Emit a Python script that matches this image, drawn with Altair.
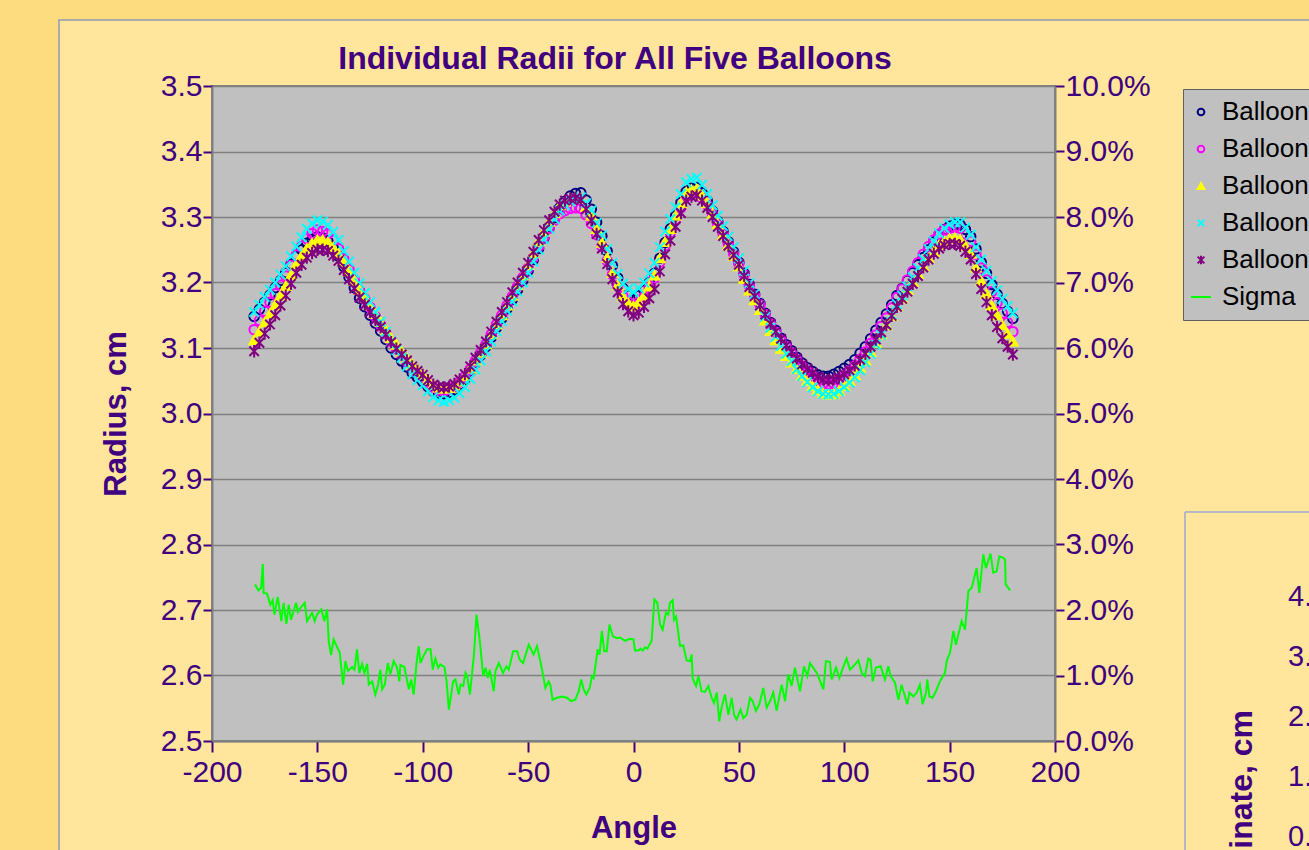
import altair as alt
import pandas as pd

# ---------------- data ----------------
ANGLES = [a / 2 for a in range(-360, 361, 5)]   # -180 .. 180 every 2.5 degrees

BALLOON_1 = [3.148, 3.159, 3.170, 3.181, 3.192, 3.203, 3.215, 3.228, 3.240, 3.250,
             3.260, 3.266, 3.270, 3.268, 3.263, 3.253, 3.240, 3.224, 3.208, 3.192,
             3.176, 3.163, 3.150, 3.138, 3.126, 3.113, 3.100, 3.090, 3.080, 3.071,
             3.062, 3.055, 3.048, 3.041, 3.034, 3.031, 3.030, 3.032, 3.036, 3.044,
             3.052, 3.064, 3.077, 3.089, 3.102, 3.116, 3.131, 3.145, 3.160, 3.174,
             3.189, 3.203, 3.218, 3.235, 3.252, 3.268, 3.284, 3.299, 3.314, 3.324,
             3.332, 3.336, 3.337, 3.326, 3.312, 3.292, 3.271, 3.248, 3.226, 3.207,
             3.191, 3.181, 3.175, 3.180, 3.188, 3.200, 3.214, 3.237, 3.261, 3.282,
             3.302, 3.322, 3.339, 3.344, 3.345, 3.337, 3.325, 3.309, 3.293, 3.278,
             3.262, 3.247, 3.231, 3.214, 3.197, 3.182, 3.168, 3.153, 3.139, 3.127,
             3.115, 3.105, 3.096, 3.086, 3.077, 3.070, 3.064, 3.059, 3.057, 3.057,
             3.060, 3.064, 3.069, 3.075, 3.082, 3.092, 3.102, 3.114, 3.127, 3.139,
             3.152, 3.166, 3.180, 3.191, 3.203, 3.215, 3.227, 3.238, 3.250, 3.262,
             3.273, 3.281, 3.286, 3.289, 3.288, 3.281, 3.270, 3.251, 3.231, 3.214,
             3.197, 3.182, 3.168, 3.156, 3.145]
BALLOON_2 = [3.128, 3.142, 3.156, 3.170, 3.183, 3.196, 3.210, 3.226, 3.242, 3.255,
             3.267, 3.275, 3.280, 3.278, 3.274, 3.264, 3.252, 3.236, 3.220, 3.204,
             3.188, 3.175, 3.162, 3.148, 3.135, 3.122, 3.110, 3.099, 3.089, 3.079,
             3.069, 3.061, 3.054, 3.047, 3.040, 3.036, 3.035, 3.037, 3.041, 3.048,
             3.056, 3.068, 3.081, 3.093, 3.106, 3.121, 3.136, 3.150, 3.165, 3.179,
             3.194, 3.208, 3.222, 3.238, 3.255, 3.269, 3.283, 3.295, 3.305, 3.310,
             3.313, 3.314, 3.313, 3.303, 3.290, 3.273, 3.255, 3.233, 3.212, 3.195,
             3.179, 3.170, 3.165, 3.170, 3.178, 3.192, 3.207, 3.231, 3.256, 3.276,
             3.296, 3.314, 3.331, 3.336, 3.337, 3.329, 3.318, 3.304, 3.289, 3.274,
             3.259, 3.244, 3.229, 3.212, 3.195, 3.180, 3.166, 3.151, 3.137, 3.124,
             3.112, 3.102, 3.092, 3.082, 3.072, 3.064, 3.056, 3.050, 3.046, 3.045,
             3.046, 3.051, 3.057, 3.065, 3.073, 3.083, 3.094, 3.107, 3.120, 3.133,
             3.146, 3.161, 3.177, 3.190, 3.204, 3.217, 3.230, 3.243, 3.255, 3.265,
             3.274, 3.280, 3.283, 3.284, 3.283, 3.274, 3.263, 3.243, 3.222, 3.204,
             3.186, 3.169, 3.153, 3.139, 3.125]
BALLOON_3 = [3.112, 3.125, 3.139, 3.152, 3.166, 3.180, 3.195, 3.212, 3.228, 3.241,
             3.252, 3.260, 3.265, 3.265, 3.262, 3.254, 3.244, 3.231, 3.217, 3.203,
             3.189, 3.177, 3.165, 3.152, 3.140, 3.127, 3.115, 3.105, 3.095, 3.085,
             3.075, 3.067, 3.060, 3.052, 3.044, 3.040, 3.038, 3.039, 3.043, 3.049,
             3.057, 3.069, 3.081, 3.093, 3.106, 3.121, 3.136, 3.150, 3.165, 3.180,
             3.196, 3.211, 3.227, 3.245, 3.263, 3.278, 3.293, 3.306, 3.318, 3.324,
             3.328, 3.330, 3.328, 3.316, 3.302, 3.282, 3.261, 3.238, 3.215, 3.196,
             3.179, 3.169, 3.164, 3.170, 3.180, 3.194, 3.211, 3.237, 3.262, 3.282,
             3.302, 3.321, 3.338, 3.342, 3.343, 3.333, 3.321, 3.305, 3.289, 3.273,
             3.257, 3.241, 3.225, 3.206, 3.188, 3.173, 3.158, 3.142, 3.126, 3.112,
             3.099, 3.088, 3.078, 3.068, 3.058, 3.050, 3.042, 3.036, 3.031, 3.029,
             3.030, 3.035, 3.042, 3.050, 3.059, 3.070, 3.081, 3.094, 3.108, 3.121,
             3.135, 3.149, 3.164, 3.176, 3.189, 3.201, 3.213, 3.225, 3.237, 3.247,
             3.257, 3.263, 3.267, 3.268, 3.266, 3.256, 3.244, 3.223, 3.202, 3.183,
             3.165, 3.150, 3.135, 3.122, 3.110]
BALLOON_4 = [3.155, 3.166, 3.178, 3.189, 3.200, 3.212, 3.225, 3.240, 3.255, 3.269,
             3.282, 3.290, 3.295, 3.293, 3.288, 3.277, 3.265, 3.248, 3.232, 3.215,
             3.199, 3.184, 3.170, 3.155, 3.140, 3.125, 3.110, 3.097, 3.085, 3.072,
             3.060, 3.051, 3.043, 3.034, 3.025, 3.020, 3.018, 3.020, 3.024, 3.031,
             3.040, 3.053, 3.067, 3.081, 3.095, 3.110, 3.126, 3.141, 3.157, 3.171,
             3.186, 3.200, 3.215, 3.232, 3.250, 3.266, 3.282, 3.297, 3.310, 3.318,
             3.324, 3.328, 3.330, 3.321, 3.310, 3.291, 3.272, 3.251, 3.230, 3.213,
             3.198, 3.190, 3.185, 3.191, 3.200, 3.214, 3.230, 3.254, 3.278, 3.297,
             3.315, 3.335, 3.353, 3.358, 3.360, 3.349, 3.335, 3.318, 3.302, 3.286,
             3.270, 3.254, 3.237, 3.218, 3.199, 3.182, 3.165, 3.148, 3.131, 3.117,
             3.103, 3.091, 3.080, 3.068, 3.057, 3.048, 3.040, 3.034, 3.030, 3.029,
             3.030, 3.034, 3.040, 3.047, 3.055, 3.066, 3.078, 3.091, 3.105, 3.120,
             3.135, 3.151, 3.167, 3.180, 3.194, 3.208, 3.222, 3.236, 3.251, 3.263,
             3.275, 3.283, 3.289, 3.292, 3.292, 3.284, 3.273, 3.254, 3.235, 3.218,
             3.202, 3.188, 3.175, 3.164, 3.153]
BALLOON_5 = [3.095, 3.108, 3.122, 3.136, 3.150, 3.165, 3.180, 3.198, 3.215, 3.227,
             3.238, 3.245, 3.250, 3.250, 3.248, 3.241, 3.233, 3.219, 3.205, 3.191,
             3.177, 3.166, 3.155, 3.143, 3.132, 3.120, 3.109, 3.099, 3.090, 3.081,
             3.072, 3.065, 3.059, 3.051, 3.044, 3.041, 3.040, 3.041, 3.045, 3.052,
             3.060, 3.072, 3.085, 3.097, 3.110, 3.125, 3.140, 3.155, 3.170, 3.185,
             3.200, 3.215, 3.230, 3.247, 3.265, 3.280, 3.295, 3.308, 3.319, 3.325,
             3.328, 3.329, 3.326, 3.312, 3.295, 3.274, 3.252, 3.228, 3.205, 3.185,
             3.167, 3.156, 3.150, 3.154, 3.163, 3.176, 3.190, 3.217, 3.243, 3.264,
             3.285, 3.306, 3.325, 3.331, 3.333, 3.325, 3.314, 3.300, 3.285, 3.271,
             3.256, 3.242, 3.227, 3.210, 3.193, 3.179, 3.165, 3.151, 3.137, 3.125,
             3.114, 3.104, 3.094, 3.084, 3.075, 3.068, 3.062, 3.056, 3.052, 3.051,
             3.052, 3.055, 3.060, 3.066, 3.073, 3.082, 3.091, 3.102, 3.113, 3.124,
             3.135, 3.149, 3.163, 3.175, 3.186, 3.198, 3.210, 3.223, 3.235, 3.244,
             3.252, 3.257, 3.259, 3.259, 3.256, 3.247, 3.235, 3.213, 3.190, 3.170,
             3.150, 3.132, 3.115, 3.102, 3.090]

SIGMA_ANGLE = [-179.6, -178.0, -176.7, -175.9, -175.5, -173.9, -172.3, -171.2, -170.4, -168.8,
               -167.1, -166.0, -164.7, -163.6, -162.5, -160.1, -159.2, -158.1, -156.0, -154.9,
               -152.5, -151.3, -150.2, -148.1, -146.7, -145.4, -144.6, -143.5, -142.3, -139.4,
               -137.8, -136.7, -135.5, -133.5, -132.4, -131.2, -130.1, -128.8, -127.7, -126.4,
               -125.6, -124.0, -122.5, -121.2, -120.1, -119.3, -118.0, -116.6, -115.4, -113.8,
               -112.2, -111.1, -110.6, -108.7, -106.6, -105.5, -104.3, -103.0, -101.9, -101.1,
               -99.8, -97.9, -96.3, -95.2, -94.0, -92.7, -91.6, -89.7, -88.7, -87.6,
               -85.6, -84.5, -82.9, -82.1, -80.8, -79.7, -78.9, -77.6, -75.7, -74.5,
               -72.9, -71.3, -70.2, -69.1, -68.2, -66.3, -65.5, -63.9, -61.9, -60.3,
               -59.2, -57.1, -55.2, -54.0, -52.4, -49.7, -47.4, -45.8, -44.2, -41.8,
               -40.3, -39.5, -38.4, -36.3, -33.9, -31.6, -29.7, -27.6, -26.0, -24.8,
               -23.7, -22.4, -20.8, -19.7, -18.9, -17.0, -16.1, -15.0, -13.9, -12.7,
               -11.4, -9.8, -7.9, -6.4, -4.0, -1.7, 0.0, 0.7, 2.3, 3.4,
               4.4, 5.5, 6.6, 8.6, 9.9, 11.3, 12.6, 13.8, 15.4, 16.5,
               17.3, 18.6, 19.2, 20.2, 22.1, 23.6, 25.2, 26.8, 27.6, 28.1,
               29.7, 30.8, 32.3, 33.9, 35.5, 37.1, 38.2, 39.5, 40.7, 41.8,
               43.4, 45.0, 46.6, 47.7, 48.9, 50.8, 52.1, 53.7, 55.3, 56.5,
               58.1, 59.7, 61.6, 63.2, 64.8, 66.3, 67.9, 70.3, 71.9, 73.5,
               75.0, 76.6, 79.0, 80.9, 82.5, 83.7, 87.0, 90.1, 91.3, 93.2,
               94.0, 96.1, 97.7, 99.2, 101.1, 102.7, 104.3, 106.7, 108.3, 109.8,
               111.4, 112.5, 113.5, 115.0, 117.3, 119.3, 120.9, 122.0, 124.1, 125.7,
               127.2, 129.9, 130.9, 132.8, 134.4, 135.9, 137.2, 138.8, 139.4, 140.4,
               141.9, 143.5, 145.4, 147.8, 148.6, 150.2, 151.8, 153.0, 155.7, 157.3,
               158.9, 160.5, 162.8, 164.1, 166.0, 167.2, 169.4, 170.7, 172.3, 173.6,
               175.2, 176.3, 176.6, 178.7]
SIGMA_PCT = [2.39, 2.30, 2.34, 2.70, 2.26, 2.25, 2.08, 2.15, 1.93, 2.20,
             1.83, 2.11, 1.79, 2.08, 1.85, 2.11, 1.97, 2.03, 2.11, 1.83,
             1.96, 1.83, 1.93, 2.01, 1.83, 2.01, 1.52, 1.31, 1.55, 1.35,
             0.86, 1.22, 1.07, 1.13, 1.09, 1.40, 1.04, 1.18, 1.04, 1.18,
             0.86, 0.91, 0.71, 0.86, 1.09, 0.79, 0.86, 1.19, 1.02, 1.22,
             1.12, 0.91, 1.16, 1.13, 0.79, 0.94, 0.71, 1.17, 1.45, 1.19,
             1.29, 1.40, 1.40, 1.09, 1.26, 1.12, 1.17, 1.13, 0.91, 0.48,
             0.91, 0.94, 0.71, 0.86, 0.84, 1.04, 0.99, 0.71, 1.32, 1.93,
             1.52, 0.99, 1.12, 0.96, 1.09, 0.76, 1.07, 1.19, 1.04, 1.14,
             1.09, 1.37, 1.37, 1.24, 1.19, 1.47, 1.32, 1.45, 1.22, 0.81,
             0.91, 0.86, 0.63, 0.66, 0.68, 0.66, 0.61, 0.63, 0.76, 0.94,
             0.79, 0.71, 0.81, 0.99, 0.96, 1.40, 1.32, 1.68, 1.37, 1.37,
             1.78, 1.60, 1.57, 1.58, 1.53, 1.56, 1.55, 1.38, 1.38, 1.41,
             1.38, 1.43, 1.41, 1.53, 2.16, 2.11, 1.78, 1.70, 1.96, 1.93,
             2.11, 2.15, 1.85, 1.90, 1.45, 1.46, 1.23, 1.22, 1.32, 0.95,
             0.84, 0.99, 0.76, 0.75, 0.84, 0.66, 0.58, 0.74, 0.30, 0.51,
             0.71, 0.40, 0.66, 0.40, 0.33, 0.48, 0.35, 0.40, 0.66, 0.61,
             0.46, 0.56, 0.81, 0.51, 0.61, 0.74, 0.46, 0.86, 0.61, 1.02,
             0.84, 1.12, 0.76, 1.14, 0.99, 1.19, 1.04, 0.79, 1.22, 1.21,
             0.94, 1.12, 0.96, 1.10, 1.26, 1.09, 1.14, 1.23, 1.04, 0.99,
             1.26, 1.24, 0.91, 1.12, 1.14, 0.94, 1.14, 0.99, 0.89, 0.63,
             0.86, 0.56, 0.74, 0.68, 0.74, 0.86, 0.56, 0.74, 0.94, 0.68,
             0.66, 0.76, 0.91, 1.04, 1.22, 1.35, 1.68, 1.47, 1.83, 1.70,
             2.29, 2.34, 2.64, 2.26, 2.85, 2.64, 2.86, 2.57, 2.59, 2.82,
             2.80, 2.77, 2.39, 2.30]

SERIES = ["Balloon 1", "Balloon 2", "Balloon 3", "Balloon 4", "Balloon 5", "Sigma"]
X_TICKS = [-200, -150, -100, -50, 0, 50, 100, 150, 200]
Y_TICKS = [2.5, 2.6, 2.7, 2.8, 2.9, 3.0, 3.1, 3.2, 3.3, 3.4, 3.5]
Y2_TICKS = [0, 1, 2, 3, 4, 5, 6, 7, 8, 9, 10]
SIDE_TICKS = ["4.0", "3.0", "2.0", "1.0", "0.0"]
TITLE = "Individual Radii for All Five Balloons"

# ---------------- styles ----------------
STROKES = ["#000080", "#FF00FF", "#FFFF00", "#00FFFF", "#800080", "#00FF00"]
FILLS = ["transparent", "transparent", "#FFFF00", "transparent", "transparent", "transparent"]
SHAPES = ["circle", "circle", "triangle-up",
          "M-1,-1L1,1M-1,1L1,-1",
          "M-1,-1L1,1M-1,1L1,-1M0,-1.3L0,1.3",
          "M-3,0L3,0"]
PURPLE = "#400080"
FONT = "Liberation Sans"
OUTER = "#FDDC80"
INNER = "#FFE69C"

rows = []
for name, vals in zip(SERIES[:5], [BALLOON_1, BALLOON_2, BALLOON_3, BALLOON_4, BALLOON_5]):
    for a, v in zip(ANGLES, vals):
        rows.append({"angle": a, "radius": v, "series": name})
df = pd.DataFrame(rows)
sdf = pd.DataFrame({"angle": SIGMA_ANGLE, "sigma": SIGMA_PCT})

x_enc = alt.X("angle:Q",
              scale=alt.Scale(domain=[-200, 200], nice=False, zero=False),
              axis=alt.Axis(values=X_TICKS, title="Angle", labelFlush=False,
                            labelOverlap=False, grid=False, tickSize=11,
                            labelExpr="'' + datum.value",
                            labelPadding=5, titlePadding=26))

leg = alt.Legend(title=None)
points = alt.Chart(df).mark_point(size=90, strokeWidth=2, opacity=1).encode(
    x=x_enc,
    y=alt.Y("radius:Q",
            scale=alt.Scale(domain=[2.5, 3.5], nice=False, zero=False),
            axis=alt.Axis(values=Y_TICKS, format=".1f", title="Radius, cm",
                          orient="left", grid=True, tickSize=9,
                          labelPadding=1, titlePadding=28, labelOverlap=False)),
    stroke=alt.Stroke("series:N", scale=alt.Scale(domain=SERIES, range=STROKES), legend=leg),
    fill=alt.Fill("series:N", scale=alt.Scale(domain=SERIES, range=FILLS), legend=leg),
    shape=alt.Shape("series:N", scale=alt.Scale(domain=SERIES, range=SHAPES), legend=leg),
    order=alt.Order("series:N"),
)

sigma = alt.Chart(sdf).mark_line(color="#00FF00", strokeWidth=2).encode(
    x=x_enc,
    y=alt.Y("sigma:Q",
            scale=alt.Scale(domain=[0, 10], nice=False, zero=False),
            axis=alt.Axis(values=Y2_TICKS, orient="right", grid=False, title=None,
                          labelExpr="format(datum.value, '.1f') + '%'",
                          tickSize=9, labelPadding=1, labelOverlap=False)),
)

one = alt.Data(values=[{"k": 1}])


def deco_rect(x, x2, y, y2, color):
    return alt.Chart(one).mark_rect(color=color).encode(
        x=alt.value(x), x2=alt.value(x2), y=alt.value(y), y2=alt.value(y2))


def deco_vline(x, y, y2, color):
    return alt.Chart(one).mark_rule(color=color, strokeWidth=2).encode(
        x=alt.value(x), y=alt.value(y), y2=alt.value(y2))


def deco_hline(y, x, x2, color):
    return alt.Chart(one).mark_rule(color=color, strokeWidth=2).encode(
        y=alt.value(y), x=alt.value(x), x2=alt.value(x2))


# outer (darker) strips and chart-area borders, positions relative to the plot origin
decor = [
    deco_rect(-212, -154, -86, 764, OUTER),
    deco_rect(-212, 1097, -86, -67, OUTER),
    deco_vline(-153, -67, 764, "#ABABAB"),
    deco_hline(-66, -154, 1097, "#ABABAB"),
    deco_vline(973, 426, 764, "#B4B8C4"),
    deco_hline(426, 973, 1097, "#B4B8C4"),
]

title_mark = alt.Chart(one).mark_text(
    align="center", baseline="middle", font=FONT, fontSize=32, fontWeight="bold",
    color=PURPLE, text=TITLE
).encode(x=alt.value(403), y=alt.value(-27))

side_df = pd.DataFrame({"label": SIDE_TICKS})
side_labels = alt.Chart(side_df).transform_window(
    idx="row_number()"
).transform_calculate(
    py="511 + (datum.idx - 1) * 60"
).mark_text(align="left", baseline="middle", font=FONT, fontSize=29, color=PURPLE).encode(
    x=alt.value(1076), y=alt.Y("py:Q", scale=None), text="label:N")

side_title = alt.Chart(one).mark_text(
    align="right", baseline="middle", angle=270, font=FONT, fontSize=32,
    fontWeight="bold", color=PURPLE, text="Y Coordinate, cm"
).encode(x=alt.value(1030), y=alt.value(624))

chart = alt.layer(*decor, points, sigma, title_mark, side_labels, side_title).resolve_scale(
    y="independent"
).properties(
    width=843, height=655,
    padding={"left": 212, "top": 86, "right": 254, "bottom": 109},
    autosize=alt.AutoSizeParams(type="none"),
    background=INNER,
).configure_view(
    fill="#C0C0C0", stroke="#808080", strokeWidth=2
).configure_axis(
    labelFont=FONT, labelFontSize=30, labelColor=PURPLE,
    tickColor=PURPLE, tickWidth=2,
    domainColor="#808080", domainWidth=2,
    titleFont=FONT, titleFontSize=31, titleFontWeight="bold", titleColor=PURPLE,
    gridColor="#808080", gridWidth=1.5,
).configure_legend(
    orient="none", legendX=971, legendY=3,
    fillColor="#C0C0C0", strokeColor="#606060",
    padding=10, rowPadding=11, labelFont=FONT, labelFontSize=26,
    labelColor="#000000", symbolSize=45, symbolStrokeWidth=2,
    symbolOffset=-5, labelOffset=8, labelLimit=300,
)

chart.save("out.html", embed_options={"renderer": "svg", "actions": False})
